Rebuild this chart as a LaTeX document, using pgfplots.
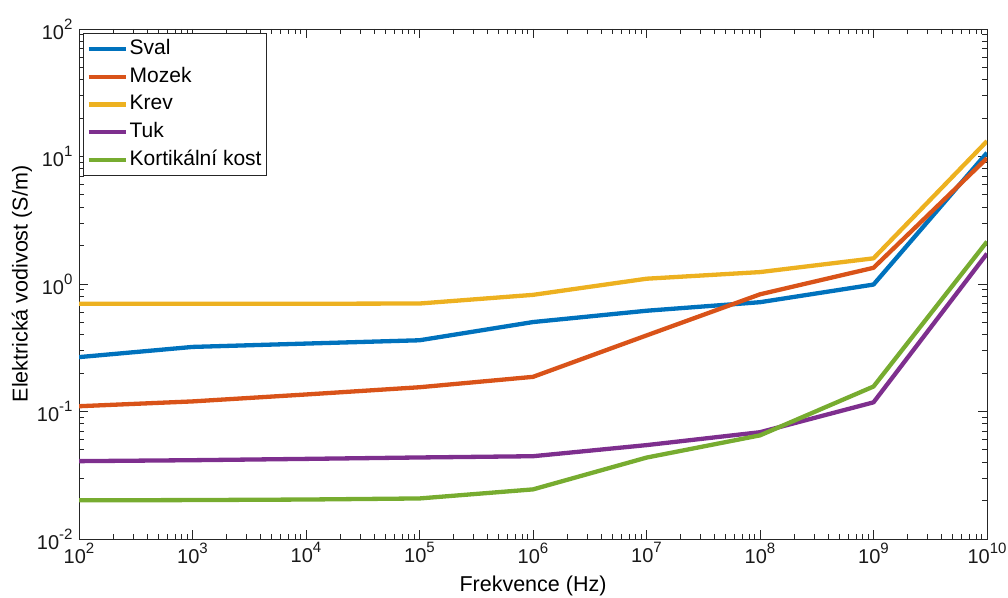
\documentclass[border=0pt]{standalone}
\usepackage{fontspec}
\setmainfont{Liberation Sans}
\usepackage{pgfplots}
\pgfplotsset{compat=1.18}
\definecolor{c1}{rgb}{0,0.447,0.741}
\definecolor{c2}{rgb}{0.85,0.325,0.098}
\definecolor{c3}{rgb}{0.929,0.694,0.125}
\definecolor{c4}{rgb}{0.494,0.184,0.556}
\definecolor{c5}{rgb}{0.466,0.674,0.188}
\newcommand{\tp}[1]{10\raisebox{10pt}{\fontsize{15}{15}\selectfont #1}}
\begin{document}
\begin{tikzpicture}[x=1pt,y=1pt]
\useasboundingbox (-79,-58) rectangle (929,539);
\begin{axis}[
  at={(0,0)}, anchor=south west,
  scale only axis, width=908pt, height=510pt,
  xmode=log, ymode=log,
  xmin=1e2, xmax=1e10, ymin=1e-2, ymax=1e2,
  xtick={1e2,1e3,1e4,1e5,1e6,1e7,1e8,1e9,1e10},
  xticklabels={\tp{2},\tp{3},\tp{4},\tp{5},\tp{6},\tp{7},\tp{8},\tp{9},\tp{10}},
  ytick={1e-2,1e-1,1,1e1,1e2},
  yticklabels={\tp{-2},\tp{-1},\tp{0},\tp{1},\tp{2}},
  minor xtick={2e2,3e2,4e2,5e2,6e2,7e2,8e2,9e2,
    2e3,3e3,4e3,5e3,6e3,7e3,8e3,9e3,
    2e4,3e4,4e4,5e4,6e4,7e4,8e4,9e4,
    2e5,3e5,4e5,5e5,6e5,7e5,8e5,9e5,
    2e6,3e6,4e6,5e6,6e6,7e6,8e6,9e6,
    2e7,3e7,4e7,5e7,6e7,7e7,8e7,9e7,
    2e8,3e8,4e8,5e8,6e8,7e8,8e8,9e8,
    2e9,3e9,4e9,5e9,6e9,7e9,8e9,9e9},
  minor ytick={2e-2,3e-2,4e-2,5e-2,6e-2,7e-2,8e-2,9e-2,
    0.2,0.3,0.4,0.5,0.6,0.7,0.8,0.9,
    2,3,4,5,6,7,8,9,
    20,30,40,50,60,70,80,90},
  major tick length=9pt, minor tick length=5pt,
  tick align=inside,
  axis line style={black!85, line width=0.8pt},
  tick style={black!85, line width=0.8pt},
  tick label style={font=\fontsize{20}{24}\selectfont, text=black!90},
  yticklabel style={xshift=-3pt},
  xlabel={Frekvence (Hz)},
  ylabel={Elektrická vodivost (S/m)},
  label style={font=\fontsize{21.5}{25}\selectfont},
  xlabel style={at={(axis description cs:0.5,-0.102)}, anchor=base},
  ylabel style={at={(axis description cs:-0.0628,0.5)}, anchor=center, rotate=0},
  legend style={at={(axis description cs:0.0044,0.992)}, anchor=north west,
    draw=black!85, line width=0.8pt, fill=white,
    font=\fontsize{21}{24}\selectfont,
    inner xsep=3pt, inner ysep=2pt, row sep=0pt,
    nodes={inner xsep=2pt, inner ysep=4.3pt, text height=15pt, text depth=4pt}},
  legend cell align=left,
  legend image code/.code={\draw[#1] (0pt,0pt) -- (37pt,0pt);},
  every axis plot/.append style={line width=4.3pt, line join=round},
]
\addplot[c1] coordinates {(1e2,0.267)(1e3,0.321)(1e4,0.341)(1e5,0.362)(1e6,0.503)(1e7,0.617)(1e8,0.72)(1e9,0.99)(1e10,10.7)};
\addlegendentry{Sval}
\addplot[c2] coordinates {(1e2,0.11)(1e3,0.12)(1e4,0.136)(1e5,0.155)(1e6,0.187)(1e7,0.395)(1e8,0.83)(1e9,1.34)(1e10,9.7)};
\addlegendentry{Mozek}
\addplot[c3] coordinates {(1e2,0.7)(1e3,0.7)(1e4,0.7)(1e5,0.703)(1e6,0.822)(1e7,1.1)(1e8,1.24)(1e9,1.59)(1e10,13.2)};
\addlegendentry{Krev}
\addplot[c4] coordinates {(1e2,0.0408)(1e3,0.0415)(1e4,0.0425)(1e5,0.0436)(1e6,0.0446)(1e7,0.0545)(1e8,0.0688)(1e9,0.118)(1e10,1.73)};
\addlegendentry{Tuk}
\addplot[c5] coordinates {(1e2,0.0201)(1e3,0.0202)(1e4,0.0204)(1e5,0.0208)(1e6,0.0245)(1e7,0.0435)(1e8,0.065)(1e9,0.157)(1e10,2.15)};
\addlegendentry{Kortikální kost}
\end{axis}
\end{tikzpicture}
\end{document}
